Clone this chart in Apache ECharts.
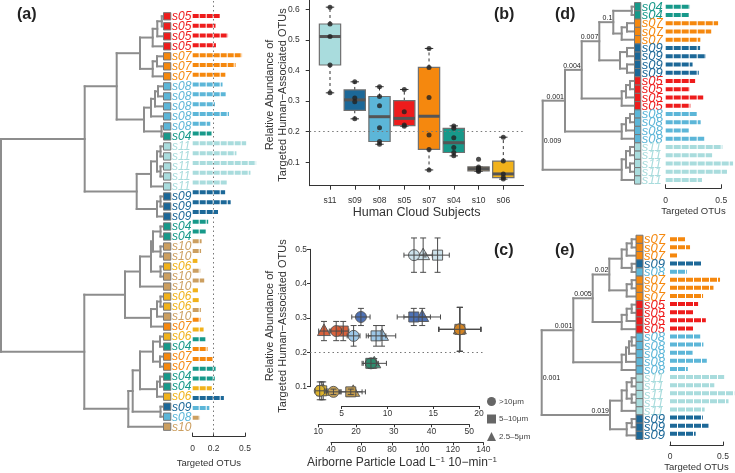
<!DOCTYPE html>
<html>
<head>
<meta charset="utf-8">
<title>Human cloud subjects</title>
<script src="https://cdn.jsdelivr.net/npm/echarts@6.0.0/dist/echarts.min.js"></script>
<style>
  html, body { margin: 0; padding: 0; background: #fff; }
  #main { width: 735px; height: 473px; }
</style>
</head>
<body>
<div id="main"></div>
<script>
// panel (a): leaves of the full dendrogram, top to bottom, with targeted OTU fraction
const aLabels = ["s05","s05","s05","s05","s07","s07","s07","s08","s08","s08","s08","s08","s04",
  "s11","s11","s11","s11","s11","s09","s09","s09","s04","s04","s10","s10","s06","s10","s10",
  "s06","s06","s10","s07","s06","s04","s07","s07","s04","s04","s06","s09","s08","s10"];
const aValues = [0.265,0.218,0.338,0.222,0.472,0.41,0.312,0.285,0.315,0.213,0.347,0.168,0.18,
  0.511,0.418,0.607,0.552,0.327,0.31,0.363,0.242,0.148,0.132,0.085,0.08,0.045,0.072,0.11,
  0.05,0.062,0.078,0.075,0.104,0.121,0.142,0.189,0.219,0.211,0.182,0.298,0.159,0.07];
// merges: [childA, childB, height]; negative = leaf number, positive = earlier merge
const aMerges = [
  [-1,-2,0.012],[1,-3,0.057],[2,-4,0.103],[-5,-6,0.06],[4,-7,0.103],[3,5,0.23],
  [-8,-9,0.05],[7,-10,0.08],[8,-11,0.12],[-12,-13,0.015],[9,10,0.19],[6,11,0.463],
  [-14,-15,0.025],[-16,-17,0.025],[13,14,0.06],[15,-18,0.12],[-19,-20,0.025],[17,-21,0.06],
  [16,18,0.263],[12,19,0.783],
  [-22,-23,0.025],[-24,-25,0.025],[21,22,0.1],[-26,-27,0.025],[23,24,0.12],[25,-28,0.23],
  [-29,-30,0.025],[27,-31,0.06],[28,-32,0.12],[26,29,0.38],
  [-33,-34,0.03],[-35,-36,0.03],[31,32,0.1],[-37,-38,0.03],[34,-39,0.06],[33,35,0.23],
  [-40,-41,0.025],[36,37,0.303],[38,-42,0.347],[30,39,0.787],[20,40,1.62]
];

// panel (b): subject order on the x axis
const bOrder = ["s11","s09","s08","s05","s07","s04","s10","s06"];

// panel (c): mean abundance (+/- se) against particle loads of three size classes
const cSubjects = ["s11","s09","s05","s08","s07","s04","s06","s10"];
const cMean = [0.483,0.303,0.262,0.248,0.267,0.168,0.088,0.085];
const cMeanErr = [0.05,0.025,0.028,0.03,0.064,0.014,0.026,0.008];
const cLoadOver10 = [12.9,7.1,4.4,6.3,17.9,8.2,2.6,4.1];
const cLoadOver10Err = [1.1,1.0,0.6,0.7,2.3,0.6,0.5,0.8];
const cLoad5to10 = [41.6,35.3,16.6,25.3,47.5,23.9,10.9,18.6];
const cLoad5to10Err = [3.1,4.4,1.5,2.6,5.5,2.0,1.2,3.0];
const cLoad25to5 = [100.5,99.9,35.4,73.5,124.6,68.4,34.9,54.6];
const cLoad25to5Err = [6,12,3.5,9,14,8,3,8];

// panel (d)
const dLabels = ["s04","s04","s07","s07","s07","s09","s09","s09","s09","s05","s05","s05","s05",
  "s08","s08","s08","s08","s11","s11","s11","s11","s11"];
const dValues = [0.219,0.211,0.472,0.41,0.312,0.31,0.363,0.242,0.298,0.265,0.218,0.338,0.222,
  0.285,0.315,0.213,0.347,0.511,0.418,0.607,0.552,0.327];
const dMerges = [
  [-1,-2,2.3],[-3,-4,7],[2,-5,12.3],[1,3,20.7],
  [-6,-7,7],[-8,-9,7],[5,6,14],[4,7,34.7],
  [-10,-11,4],[9,-12,8],[10,-13,12.3],[8,11,52.3],
  [-14,-15,4],[13,-16,8],[14,-17,12.3],[12,15,69],
  [-18,-19,4],[-20,-21,4],[17,18,8],[19,-22,12.3],[16,20,91.3]
];
const dNodeLabels = [[4,"0.1"],[8,"0.007"],[12,"0.004"],[16,"0.001"],[21,"0.009"]];

// panel (e)
const eLabels = ["s07","s07","s07","s09","s08","s07","s07","s07","s05","s05","s05","s05",
  "s08","s08","s08","s08","s08","s11","s11","s11","s11","s11","s09","s09","s09"];
const eValues = [0.142,0.189,0.075,0.298,0.159,0.472,0.41,0.312,0.265,0.218,0.338,0.222,
  0.285,0.315,0.213,0.347,0.168,0.511,0.418,0.607,0.552,0.327,0.31,0.363,0.242];
const eMerges = [
  [-1,-2,3.3],[1,-3,8.3],[-4,-5,3.3],[2,3,13.3],[-6,-7,3.3],[5,-8,8.3],[4,6,25.7],
  [-9,-10,3.3],[8,-11,8.3],[9,-12,13.3],[7,10,42.3],
  [-13,-14,3.3],[12,-15,6],[13,-16,9],[14,-17,13.3],[11,15,61.7],
  [-18,-19,3.3],[-20,-21,3.3],[17,18,8.3],[19,-22,13.3],
  [-23,-24,3.3],[21,-25,8.3],[20,22,25],[16,23,93.3]
];
const eNodeLabels = [[7,"0.02"],[11,"0.005"],[16,"0.001"],[23,"0.019"],[24,"0.001"]];

const subjColor = {s04:"#17998a", s05:"#ee1c1c", s06:"#f1b21b", s07:"#f5880e", s08:"#5cb6d8",
  s09:"#1c6898", s10:"#cc9f60", s11:"#a9dcdd"};
const cColor = {s04:"#2e8b6d", s05:"#d6552d", s06:"#e3b62a", s07:"#d38424", s08:"#96c3e6",
  s09:"#3f66b0", s10:"#c79d4a", s11:"#c9dfe9"};
const FONT = '"Liberation Sans", Arial, sans-serif';

function buildTree(merges) {
  const pos = [], segs = [];
  const at = c => (c < 0 ? [0, -c] : pos[c - 1]);
  merges.forEach(([a, b, h]) => {
    const pa = at(a), pb = at(b);
    segs.push([pa[0], pa[1], h, pa[1]]);
    segs.push([pb[0], pb[1], h, pb[1]]);
    segs.push([h, pa[1], h, pb[1]]);
    pos.push([h, (pa[1] + pb[1]) / 2]);
  });
  return { segs, pos };
}

function treeSeries(merges, ax) {
  return {
    type: 'custom', xAxisIndex: ax, yAxisIndex: ax, silent: true,
    data: buildTree(merges).segs,
    renderItem: (params, api) => {
      const p = api.coord([api.value(0), api.value(1)]);
      const q = api.coord([api.value(2), api.value(3)]);
      return { type: 'line', shape: { x1: p[0], y1: p[1], x2: q[0], y2: q[1] },
        style: { stroke: '#8d8d8d', lineWidth: 2, lineCap: 'square' } };
    }
  };
}

function leafSeries(labels, ax, o) {
  return {
    type: 'custom', xAxisIndex: ax, yAxisIndex: ax, silent: true,
    data: labels.map((s, i) => [0, i + 1, i]),
    renderItem: (params, api) => {
      const p = api.coord([0, api.value(1)]);
      const s = labels[api.value(2)];
      return { type: 'group', children: [
        { type: 'rect', shape: { x: p[0] + o.sqX, y: p[1] - o.sqH / 2, width: o.sqW, height: o.sqH },
          style: { fill: subjColor[s], stroke: '#777', lineWidth: 1 } },
        { type: 'text', x: p[0] + o.textX, y: p[1] + 0.5,
          style: { text: s, fill: subjColor[s], fontSize: o.fs, fontStyle: 'italic',
            fontFamily: FONT, align: 'left', verticalAlign: 'middle' } }
      ] };
    }
  };
}

function barSeries(labels, values, ax, dash) {
  return {
    type: 'custom', xAxisIndex: ax, yAxisIndex: ax, silent: true,
    data: values.map((v, i) => [v, i + 1, i]),
    renderItem: (params, api) => {
      const p0 = api.coord([0, api.value(1)]);
      const p1 = api.coord([api.value(0), api.value(1)]);
      return { type: 'line', shape: { x1: p0[0], y1: p0[1], x2: p1[0], y2: p1[1] },
        style: { stroke: subjColor[labels[api.value(2)]], lineWidth: 4, lineDash: dash } };
    }
  };
}

function nodeLabelSeries(merges, nodeLabels, ax) {
  const pos = buildTree(merges).pos;
  return {
    type: 'custom', xAxisIndex: ax, yAxisIndex: ax, silent: true,
    data: nodeLabels.map(([m], j) => [pos[m - 1][0], pos[m - 1][1], j, m === merges.length ? 1 : 0]),
    renderItem: (params, api) => {
      const p = api.coord([api.value(0), api.value(1)]);
      const root = api.value(3) === 1;
      return { type: 'text', x: root ? p[0] + 1 : p[0] - 1, y: root ? p[1] + 2 : p[1] - 0.5,
        style: { text: nodeLabels[api.value(2)][1], fill: '#222', fontSize: 7, fontFamily: FONT,
          align: root ? 'left' : 'right', verticalAlign: root ? 'top' : 'bottom' } };
    }
  };
}

// R-style five number summary for the box plots
function fivenum(arr) {
  const x = arr.slice().sort((a, b) => a - b), n = x.length;
  const n4 = Math.floor((n + 3) / 2) / 2;
  const at = p => 0.5 * (x[Math.floor(p) - 1] + x[Math.ceil(p) - 1]);
  return [1, n4, (n + 1) / 2, n + 1 - n4, n].map(at);
}
const bGroups = bOrder.map(s => aValues.filter((v, i) => aLabels[i] === s));
const bStats = bGroups.map((vals, k) => {
  const f = fivenum(vals), iqr = f[3] - f[1];
  const lo = Math.min(...vals.filter(v => v >= f[1] - 1.5 * iqr));
  const hi = Math.max(...vals.filter(v => v <= f[3] + 1.5 * iqr));
  return [k + 1, lo, f[1], f[2], f[3], hi];
});
const bPoints = [];
bGroups.forEach((vals, k) => vals.forEach(v => bPoints.push([k + 1, v])));

function cSeries(name, xs, xErr, ax, shape) {
  return {
    type: 'custom', name, xAxisIndex: ax, yAxisIndex: ax, silent: true,
    itemStyle: { color: '#666' },
    data: xs.map((x, i) => [x, cMean[i], xErr[i], cMeanErr[i], i]),
    renderItem: (params, api) => {
      const x = api.value(0), y = api.value(1), ex = api.value(2), ey = api.value(3);
      const s = cSubjects[api.value(4)];
      const p = api.coord([x, y]);
      const l = api.coord([x - ex, y]), r = api.coord([x + ex, y]);
      const t = api.coord([x, y + ey]), b = api.coord([x, y - ey]);
      const ln = (x1, y1, x2, y2) => ({ type: 'line', shape: { x1, y1, x2, y2 },
        style: { stroke: '#4a4a4a', lineWidth: 1 } });
      let sym;
      if (shape === 'circle') sym = { type: 'circle', shape: { cx: p[0], cy: p[1], r: 5.5 } };
      else if (shape === 'rect') sym = { type: 'rect', shape: { x: p[0] - 5, y: p[1] - 5, width: 10, height: 10 } };
      else sym = { type: 'polygon', shape: { points: [[p[0], p[1] - 7], [p[0] - 6.5, p[1] + 4.5], [p[0] + 6.5, p[1] + 4.5]] } };
      sym.style = { fill: cColor[s], stroke: '#555', lineWidth: 1, opacity: 0.92 };
      return { type: 'group', children: [
        sym,
        ln(l[0], p[1], r[0], p[1]), ln(l[0], p[1] - 2.5, l[0], p[1] + 2.5), ln(r[0], p[1] - 2.5, r[0], p[1] + 2.5),
        ln(p[0], t[1], p[0], b[1]), ln(p[0] - 3, t[1], p[0] + 3, t[1]), ln(p[0] - 3, b[1], p[0] + 3, b[1])
      ] };
    }
  };
}

const axLine = { show: true, onZero: false, lineStyle: { color: '#333', width: 1 } };
const axLabel = { fontSize: 8.5, color: '#333', fontFamily: FONT };
const hidden = (gridIndex, min, max, inverse) =>
  ({ gridIndex, type: 'value', min, max, inverse: !!inverse, show: false,
     axisLine: { onZero: false }, splitLine: { show: false } });
const otuAxis = (gridIndex, ticks, margin, gap, pad) => ({
  gridIndex, type: 'value', min: 0, max: 0.5, splitLine: { show: false },
  axisLine: axLine,
  axisTick: { inside: true, length: 4, customValues: ticks, lineStyle: { color: '#333' } },
  axisLabel: Object.assign({ customValues: ticks, margin }, axLabel),
  name: 'Targeted OTUs', nameLocation: 'middle', nameGap: gap,
  nameTextStyle: { fontSize: 9.5, color: '#333', fontFamily: FONT, padding: pad }
});
const titleY = 'Relative Abundance of\nTargeted Human\u2212Associated OTUs';
const yTitle = (x, y) => ({ type: 'text', x, y, rotation: Math.PI / 2,
  style: { text: titleY, fontSize: 11, lineHeight: 13, fill: '#333', fontFamily: FONT,
    align: 'center', verticalAlign: 'middle' } });
const panelTag = (txt, left, top) => ({ type: 'text', left, top,
  style: { text: txt, fontSize: 16, fontWeight: 'bold', fill: '#222', fontFamily: FONT } });

const chart = echarts.init(document.getElementById('main'));
chart.setOption({
  animation: false,
  backgroundColor: '#fff',
  grid: [
    { left: 1, top: 1, width: 162, height: 445 },          // a tree
    { left: 192.7, top: 1, width: 52.3, height: 445 },     // a bars
    { left: 309.7, top: 0, width: 213.9, height: 185.7 },  // b
    { left: 310, top: 249.3, width: 175, height: 137.4 },  // c y axis
    { left: 341.7, top: 249.3, width: 137.3, height: 137.4 },
    { left: 318.3, top: 249.3, width: 151, height: 137.4 },
    { left: 331, top: 249.3, width: 152.3, height: 137.4 },
    { left: 542.7, top: 0, width: 91.3, height: 188.3 },   // d tree
    { left: 665.7, top: 0, width: 55.5, height: 188.3 },   // d bars
    { left: 541.7, top: 232, width: 93.3, height: 215.3 }, // e tree
    { left: 670, top: 232, width: 53, height: 215.3 }      // e bars
  ],
  xAxis: [
    hidden(0, 0, 1.62, true),
    otuAxis(1, [0, 0.2, 0.5], 7.5, 16, [0, 20, 0, 0]),
    { gridIndex: 2, type: 'value', min: 0.18, max: 8.82, splitLine: { show: false }, axisLine: axLine,
      axisTick: { length: 4, customValues: [1,2,3,4,5,6,7,8], lineStyle: { color: '#333' } },
      axisLabel: Object.assign({ customValues: [1,2,3,4,5,6,7,8], margin: 10,
        formatter: v => bOrder[Math.round(v) - 1] }, axLabel),
      name: 'Human Cloud Subjects', nameLocation: 'middle', nameGap: 18,
      nameTextStyle: { fontSize: 12.5, color: '#333', fontFamily: FONT } },
    hidden(3, 0, 1),
    { gridIndex: 4, type: 'value', min: 5, max: 20, interval: 5, offset: 19.3, splitLine: { show: false },
      axisLine: axLine, axisTick: { length: 3, lineStyle: { color: '#333' } },
      axisLabel: Object.assign({ margin: 3 }, axLabel) },
    { gridIndex: 5, type: 'value', min: 10, max: 50, interval: 10, offset: 37.6, splitLine: { show: false },
      axisLine: axLine, axisTick: { length: 3, lineStyle: { color: '#333' } },
      axisLabel: Object.assign({ margin: 3 }, axLabel) },
    { gridIndex: 6, type: 'value', min: 40, max: 140, interval: 20, offset: 55.6, splitLine: { show: false },
      axisLine: axLine, axisTick: { length: 3, lineStyle: { color: '#333' } },
      axisLabel: Object.assign({ margin: 3 }, axLabel) },
    hidden(7, 0, 91.3, true),
    otuAxis(8, [0, 0.5], 8, 18, 0),
    hidden(9, 0, 93.3, true),
    otuAxis(10, [0, 0.5], 6.5, 15, 0)
  ],
  yAxis: [
    hidden(0, -0.528, 43.93, true),
    hidden(1, -0.528, 43.93, true),
    { gridIndex: 2, type: 'value', min: 0.0235, max: 0.6304, splitLine: { show: false }, axisLine: axLine,
      axisTick: { length: 4, customValues: [0.1,0.2,0.3,0.4,0.5,0.6], lineStyle: { color: '#333' } },
      axisLabel: Object.assign({ customValues: [0.1,0.2,0.3,0.4,0.5,0.6], margin: 10 }, axLabel) },
    { gridIndex: 3, type: 'value', min: 0.1, max: 0.5, interval: 0.1, splitLine: { show: false },
      axisLine: axLine, axisTick: { length: 3, lineStyle: { color: '#333' } },
      axisLabel: Object.assign({ margin: 3, formatter: v => v.toFixed(1) }, axLabel) },
    hidden(4, 0.1, 0.5), hidden(5, 0.1, 0.5), hidden(6, 0.1, 0.5),
    hidden(7, 0.188, 23.01, true), hidden(8, 0.188, 23.01, true),
    hidden(9, 0.1065, 26.46, true), hidden(10, 0.1065, 26.46, true)
  ],
  legend: {
    data: [{ name: '>10\u03bcm', icon: 'circle' }, { name: '5\u201310\u03bcm', icon: 'rect' },
      { name: '2.5\u20135\u03bcm', icon: 'triangle' }],
    orient: 'vertical', left: 487, top: 397, itemWidth: 9, itemHeight: 9, itemGap: 8.5,
    padding: 0, selectedMode: false,
    textStyle: { fontSize: 8, color: '#444', fontFamily: FONT, padding: [0, 0, 0, -2] }
  },
  graphic: [
    panelTag('(a)', 17, 7), panelTag('(b)', 494, 7), panelTag('(c)', 494, 243),
    panelTag('(d)', 555, 7), panelTag('(e)', 555, 243),
    yTitle(276.5, 95), yTitle(276.5, 326),
    { type: 'text', left: 307, top: 456, style: {
      text: 'Airborne Particle Load L{s|\u22121} 10\u2212min{s|\u22121}',
      rich: { s: { fontSize: 8, fill: '#333', fontFamily: FONT, verticalAlign: 'bottom', padding: [0, 0, 6, 0] } },
      fontSize: 12, fill: '#333', fontFamily: FONT } }
  ],
  series: [
    treeSeries(aMerges, 0),
    leafSeries(aLabels, 0, { sqX: 0.5, sqW: 7.3, sqH: 7.3, textX: 9, fs: 12 }),
    barSeries(aLabels, aValues, 1, [6, 1]),
    { type: 'line', xAxisIndex: 1, yAxisIndex: 1, data: [], silent: true,
      markLine: { silent: true, symbol: 'none', label: { show: false },
        lineStyle: { type: [1.5, 3], color: '#777', width: 1 }, data: [{ xAxis: 0.2 }] } },

    { type: 'custom', xAxisIndex: 2, yAxisIndex: 2, silent: true, data: bStats,
      renderItem: (params, api) => {
        const k = api.value(0);
        const col = subjColor[bOrder[k - 1]];
        const c = (x, y) => api.coord([x, y]);
        const lo = api.value(1), lh = api.value(2), md = api.value(3), uh = api.value(4), hi = api.value(5);
        const a = c(k - 0.43, uh), b = c(k + 0.43, lh);
        const ml = c(k - 0.43, md), mr = c(k + 0.43, md);
        const line = (p, q, extra) => ({ type: 'line', shape: { x1: p[0], y1: p[1], x2: q[0], y2: q[1] },
          style: Object.assign({ stroke: '#333', lineWidth: 1 }, extra) });
        return { type: 'group', children: [
          line(c(k, uh), c(k, hi), { lineDash: [3, 3] }),
          line(c(k, lh), c(k, lo), { lineDash: [3, 3] }),
          line(c(k - 0.17, hi), c(k + 0.17, hi)),
          line(c(k - 0.17, lo), c(k + 0.17, lo)),
          { type: 'rect', shape: { x: a[0], y: a[1], width: b[0] - a[0], height: b[1] - a[1] },
            style: { fill: col, stroke: '#707070', lineWidth: 1.2 } },
          line(ml, mr, { stroke: '#555', lineWidth: 3 })
        ] };
      } },
    { type: 'scatter', xAxisIndex: 2, yAxisIndex: 2, silent: true, data: bPoints,
      symbolSize: 5, itemStyle: { color: '#222' } },
    { type: 'line', xAxisIndex: 2, yAxisIndex: 2, data: [], silent: true,
      markLine: { silent: true, symbol: 'none', label: { show: false },
        lineStyle: { type: [1.5, 3], color: '#777', width: 1 }, data: [{ yAxis: 0.2 }] } },

    { type: 'line', xAxisIndex: 3, yAxisIndex: 3, data: [], silent: true,
      markLine: { silent: true, symbol: 'none', label: { show: false },
        lineStyle: { type: [1.5, 3], color: '#777', width: 1 }, data: [{ yAxis: 0.2 }] } },
    cSeries('2.5\u20135\u03bcm', cLoad25to5, cLoad25to5Err, 6, 'triangle'),
    cSeries('5\u201310\u03bcm', cLoad5to10, cLoad5to10Err, 5, 'rect'),
    cSeries('>10\u03bcm', cLoadOver10, cLoadOver10Err, 4, 'circle'),

    treeSeries(dMerges, 7),
    leafSeries(dLabels, 7, { sqX: 0.5, sqW: 6.3, sqH: 8.25, textX: 7.7, fs: 13 }),
    nodeLabelSeries(dMerges, dNodeLabels, 7),
    barSeries(dLabels, dValues, 8, [7, 1]),

    treeSeries(eMerges, 9),
    leafSeries(eLabels, 9, { sqX: 1, sqW: 7, sqH: 8.17, textX: 9, fs: 13 }),
    nodeLabelSeries(eMerges, eNodeLabels, 9),
    barSeries(eLabels, eValues, 10, [7, 1])
  ]
});
</script>
</body>
</html>
